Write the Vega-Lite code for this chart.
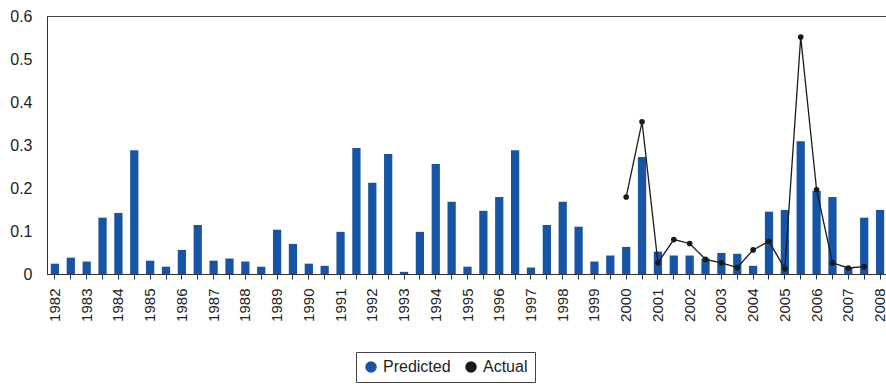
{
  "$schema": "https://vega.github.io/schema/vega-lite/v6.json",
  "width": 841,
  "height": 258,
  "padding": {"left": 9, "top": 8, "right": 0, "bottom": 0},
  "background": "white",
  "config": {"view": {"stroke": "#444", "strokeWidth": 1}, "font": "Liberation Sans"},
  "data": {"values": [
    {"period": "1982-1", "Predicted": 0.024},
    {"period": "1982-2", "Predicted": 0.038},
    {"period": "1983-1", "Predicted": 0.029},
    {"period": "1983-2", "Predicted": 0.131},
    {"period": "1984-1", "Predicted": 0.142},
    {"period": "1984-2", "Predicted": 0.288},
    {"period": "1985-1", "Predicted": 0.031},
    {"period": "1985-2", "Predicted": 0.017},
    {"period": "1986-1", "Predicted": 0.056},
    {"period": "1986-2", "Predicted": 0.114},
    {"period": "1987-1", "Predicted": 0.031},
    {"period": "1987-2", "Predicted": 0.036},
    {"period": "1988-1", "Predicted": 0.029},
    {"period": "1988-2", "Predicted": 0.017},
    {"period": "1989-1", "Predicted": 0.103},
    {"period": "1989-2", "Predicted": 0.070},
    {"period": "1990-1", "Predicted": 0.024},
    {"period": "1990-2", "Predicted": 0.019},
    {"period": "1991-1", "Predicted": 0.098},
    {"period": "1991-2", "Predicted": 0.293},
    {"period": "1992-1", "Predicted": 0.212},
    {"period": "1992-2", "Predicted": 0.279},
    {"period": "1993-1", "Predicted": 0.005},
    {"period": "1993-2", "Predicted": 0.098},
    {"period": "1994-1", "Predicted": 0.256},
    {"period": "1994-2", "Predicted": 0.168},
    {"period": "1995-1", "Predicted": 0.017},
    {"period": "1995-2", "Predicted": 0.147},
    {"period": "1996-1", "Predicted": 0.179},
    {"period": "1996-2", "Predicted": 0.288},
    {"period": "1997-1", "Predicted": 0.015},
    {"period": "1997-2", "Predicted": 0.114},
    {"period": "1998-1", "Predicted": 0.168},
    {"period": "1998-2", "Predicted": 0.110},
    {"period": "1999-1", "Predicted": 0.029},
    {"period": "1999-2", "Predicted": 0.043},
    {"period": "2000-1", "Predicted": 0.063, "Actual": 0.179},
    {"period": "2000-2", "Predicted": 0.272, "Actual": 0.354},
    {"period": "2001-1", "Predicted": 0.052, "Actual": 0.026},
    {"period": "2001-2", "Predicted": 0.043, "Actual": 0.080},
    {"period": "2002-1", "Predicted": 0.043, "Actual": 0.071},
    {"period": "2002-2", "Predicted": 0.036, "Actual": 0.034},
    {"period": "2003-1", "Predicted": 0.049, "Actual": 0.026},
    {"period": "2003-2", "Predicted": 0.047, "Actual": 0.015},
    {"period": "2004-1", "Predicted": 0.019, "Actual": 0.056},
    {"period": "2004-2", "Predicted": 0.145, "Actual": 0.076},
    {"period": "2005-1", "Predicted": 0.149, "Actual": 0.012},
    {"period": "2005-2", "Predicted": 0.309, "Actual": 0.551},
    {"period": "2006-1", "Predicted": 0.193, "Actual": 0.196},
    {"period": "2006-2", "Predicted": 0.179, "Actual": 0.026},
    {"period": "2007-1", "Predicted": 0.015, "Actual": 0.014},
    {"period": "2007-2", "Predicted": 0.131, "Actual": 0.017},
    {"period": "2008-1", "Predicted": 0.149}
  ]},
  "transform": [{"fold": ["Predicted", "Actual"], "as": ["series", "value"]}],
  "encoding": {
    "x": {
      "field": "period",
      "type": "ordinal",
      "scale": {"paddingInner": 0.48, "paddingOuter": 0.24},
      "axis": {
        "title": null,
        "labelAngle": -90,
        "labelExpr": "substring(datum.value, 5, 6) == '1' ? substring(datum.value, 0, 4) : ''",
        "labelOverlap": false,
        "labelFontSize": 15,
        "labelColor": "#222",
        "labelPadding": 9,
        "tickSize": 5,
        "tickColor": "#333",
        "domainColor": "#333"
      }
    },
    "y": {
      "field": "value",
      "type": "quantitative",
      "scale": {"domain": [0, 0.6], "nice": false},
      "axis": {
        "title": null,
        "values": [0, 0.1, 0.2, 0.3, 0.4, 0.5, 0.6],
        "labelExpr": "datum.value == 0 ? '0' : format(datum.value, '.1f')",
        "ticks": false,
        "grid": false,
        "labelPadding": 15,
        "labelFontSize": 16,
        "labelColor": "#222",
        "domainColor": "#333"
      }
    },
    "color": {
      "field": "series",
      "type": "nominal",
      "scale": {"domain": ["Predicted", "Actual"], "range": ["#1655a5", "#1a1a1a"]},
      "legend": {
        "title": null,
        "orient": "none",
        "legendX": 309,
        "legendY": 336,
        "direction": "horizontal",
        "strokeColor": "#444",
        "padding": 7,
        "labelFontSize": 16,
        "labelColor": "#222",
        "columnPadding": 12
      }
    }
  },
  "layer": [
    {
      "transform": [{"filter": "datum.series == 'Predicted'"}],
      "mark": {"type": "bar"}
    },
    {
      "transform": [{"filter": "datum.series == 'Actual' && isValid(datum.value)"}],
      "mark": {"type": "line", "strokeWidth": 1.3, "point": {"filled": true, "size": 32}}
    }
  ]
}
